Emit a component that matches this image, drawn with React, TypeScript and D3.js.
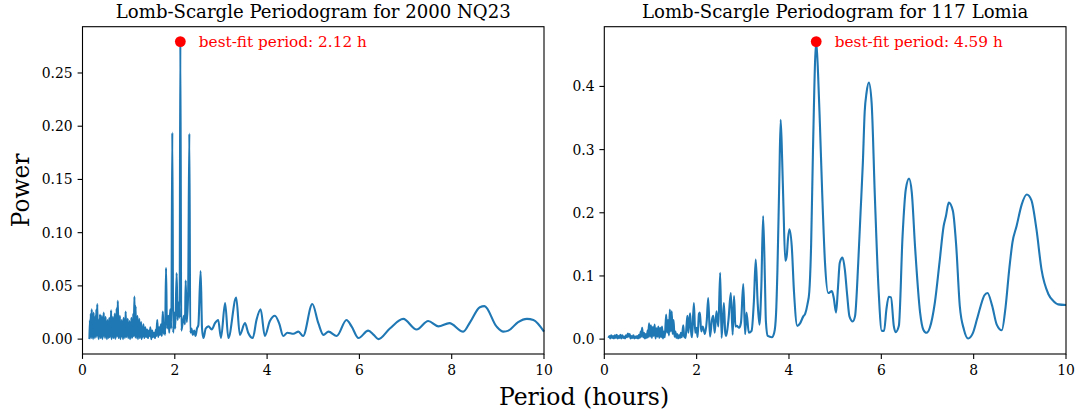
import React from 'react';
import * as d3 from 'd3';

const W = 1076;
const H = 415;
const FONT = "'DejaVu Serif', 'Liberation Serif', serif";
const LINE = '#1f77b4';

const periodTicks = [0, 2, 4, 6, 8, 10];
const nq23PowerTicks = [0, 0.05, 0.1, 0.15, 0.2, 0.25];
const lomiaPowerTicks = [0, 0.1, 0.2, 0.3, 0.4];

const nq23Title = 'Lomb-Scargle Periodogram for 2000 NQ23';
const lomiaTitle = 'Lomb-Scargle Periodogram for 117 Lomia';

const nq23Best = { period: 2.12, power: 0.2795 };
const lomiaBest = { period: 4.59, power: 0.471 };

// [period (h), power]
const nq23Curve: [number, number][] = [
  [0.15, 0.0], [0.16, 0.018], [0.17, 0.002], [0.18, 0.024], [0.19, 0.001], [0.2, 0.028], [0.21, 0.004], [0.22, 0.02],
  [0.23, 0.0], [0.24, 0.025], [0.25, 0.003], [0.26, 0.017], [0.27, 0.001], [0.28, 0.022], [0.29, 0.006], [0.3, 0.028],
  [0.31, 0.002], [0.32, 0.033], [0.33, 0.004], [0.34, 0.019], [0.35, 0.0], [0.36, 0.016], [0.37, 0.003], [0.38, 0.023],
  [0.39, 0.001], [0.4, 0.013], [0.41, 0.005], [0.42, 0.022], [0.43, 0.0], [0.44, 0.018], [0.45, 0.002], [0.46, 0.025],
  [0.47, 0.004], [0.48, 0.016], [0.49, 0.001], [0.5, 0.021], [0.51, 0.003], [0.52, 0.012], [0.53, 0.0], [0.54, 0.018],
  [0.55, 0.006], [0.56, 0.014], [0.57, 0.001], [0.58, 0.02], [0.59, 0.002], [0.6, 0.011], [0.61, 0.004], [0.62, 0.027],
  [0.63, 0.0], [0.64, 0.017], [0.65, 0.003], [0.66, 0.021], [0.67, 0.001], [0.68, 0.013], [0.69, 0.005], [0.7, 0.024],
  [0.71, 0.0], [0.72, 0.019], [0.73, 0.002], [0.74, 0.029], [0.75, 0.003], [0.765, 0.036], [0.78, 0.001], [0.79, 0.015],
  [0.8, 0.004], [0.81, 0.022], [0.82, 0.0], [0.83, 0.012], [0.84, 0.002], [0.85, 0.018], [0.86, 0.003], [0.87, 0.01],
  [0.88, 0.0], [0.89, 0.02], [0.9, 0.004], [0.91, 0.015], [0.92, 0.001], [0.935, 0.026], [0.95, 0.002], [0.96, 0.014],
  [0.97, 0.005], [0.98, 0.019], [0.99, 0.001], [1.0, 0.012], [1.01, 0.003], [1.02, 0.017], [1.03, 0.0], [1.04, 0.011],
  [1.05, 0.004], [1.06, 0.02], [1.07, 0.001], [1.08, 0.013], [1.09, 0.002], [1.1, 0.024], [1.11, 0.003], [1.125, 0.04],
  [1.14, 0.002], [1.15, 0.031], [1.16, 0.001], [1.17, 0.019], [1.18, 0.004], [1.19, 0.022], [1.2, 0.0], [1.21, 0.015],
  [1.22, 0.003], [1.23, 0.019], [1.24, 0.001], [1.25, 0.012], [1.26, 0.004], [1.27, 0.016], [1.28, 0.0], [1.29, 0.01],
  [1.3, 0.002], [1.32, 0.014], [1.34, 0.001], [1.36, 0.011], [1.38, 0.002], [1.4, 0.009], [1.42, 0.001], [1.44, 0.008],
  [1.46, 0.003], [1.47, 0.011], [1.49, 0.0], [1.51, 0.008], [1.53, 0.002], [1.55, 0.006], [1.57, 0.001], [1.59, 0.009],
  [1.6, 0.003], [1.62, 0.018], [1.64, 0.002], [1.66, 0.011], [1.68, 0.004], [1.7, 0.014], [1.72, 0.003], [1.74, 0.026],
  [1.76, 0.005], [1.78, 0.015], [1.79, 0.004], [1.81, 0.067], [1.83, 0.01], [1.86, 0.022], [1.88, 0.006], [1.9, 0.028],
  [1.925, 0.01], [1.946, 0.194], [1.965, 0.006], [1.99, 0.025], [2.01, 0.01], [2.04, 0.062], [2.06, 0.018], [2.09, 0.035],
  [2.105, 0.02], [2.12, 0.2795], [2.14, 0.008], [2.17, 0.015], [2.2, 0.022], [2.22, 0.014], [2.236, 0.055], [2.26, 0.016],
  [2.29, 0.045], [2.315, 0.193], [2.335, 0.006], [2.36, 0.01], [2.39, 0.004], [2.42, 0.008], [2.45, 0.003], [2.48, 0.01],
  [2.51, 0.013], [2.56, 0.064], [2.59, 0.01], [2.62, 0.001], [2.67, 0.01], [2.73, 0.012], [2.8, 0.009], [2.87, 0.015],
  [2.94, 0.018], [3.0, 0.001], [3.09, 0.034], [3.16, 0.001], [3.33, 0.039], [3.41, 0.004], [3.52, 0.015], [3.59, 0.006],
  [3.69, 0.001], [3.77, 0.018], [3.86, 0.028], [3.95, 0.003], [4.06, 0.017], [4.17, 0.022], [4.26, 0.015], [4.35, 0.003],
  [4.44, 0.006], [4.57, 0.005], [4.68, 0.007], [4.78, 0.003], [4.98, 0.033], [5.11, 0.015], [5.22, 0.004], [5.33, 0.007],
  [5.51, 0.003], [5.72, 0.018], [5.83, 0.012], [5.98, 0.001], [6.19, 0.008], [6.31, 0.004], [6.41, 0.0], [6.66, 0.01],
  [6.95, 0.019], [7.24, 0.009], [7.49, 0.017], [7.71, 0.012], [7.95, 0.015], [8.25, 0.007], [8.4, 0.016], [8.61, 0.03],
  [8.71, 0.031], [8.97, 0.012], [9.12, 0.007], [9.23, 0.008], [9.44, 0.016], [9.63, 0.019], [9.77, 0.018], [10.0, 0.007],
];

const lomiaCurve: [number, number][] = [
  [0.09, 0.002], [0.11, 0.005], [0.13, 0.001], [0.15, 0.006], [0.17, 0.002], [0.19, 0.005], [0.21, 0.001], [0.23, 0.006],
  [0.25, 0.002], [0.27, 0.007], [0.29, 0.001], [0.31, 0.005], [0.33, 0.002], [0.35, 0.007], [0.37, 0.001], [0.39, 0.006],
  [0.41, 0.002], [0.43, 0.004], [0.45, 0.001], [0.47, 0.006], [0.49, 0.003], [0.51, 0.009], [0.53, 0.004], [0.55, 0.008],
  [0.57, 0.001], [0.59, 0.005], [0.61, 0.002], [0.63, 0.006], [0.65, 0.001], [0.67, 0.004], [0.69, 0.002], [0.71, 0.005],
  [0.73, 0.001], [0.75, 0.007], [0.77, 0.002], [0.79, 0.012], [0.8, 0.004], [0.82, 0.018], [0.84, 0.003], [0.86, 0.01],
  [0.88, 0.001], [0.9, 0.008], [0.92, 0.002], [0.94, 0.014], [0.95, 0.003], [0.97, 0.025], [0.99, 0.004], [1.01, 0.022],
  [1.03, 0.002], [1.05, 0.019], [1.07, 0.005], [1.09, 0.023], [1.11, 0.001], [1.13, 0.017], [1.15, 0.004], [1.17, 0.02],
  [1.19, 0.002], [1.21, 0.018], [1.23, 0.003], [1.25, 0.02], [1.27, 0.001], [1.29, 0.012], [1.31, 0.003], [1.34, 0.039],
  [1.36, 0.01], [1.38, 0.03], [1.4, 0.006], [1.42, 0.047], [1.44, 0.012], [1.46, 0.044], [1.48, 0.008], [1.5, 0.03],
  [1.52, 0.004], [1.54, 0.012], [1.56, 0.002], [1.58, 0.008], [1.6, 0.001], [1.62, 0.006], [1.64, 0.002], [1.66, 0.01],
  [1.68, 0.003], [1.71, 0.022], [1.73, 0.004], [1.76, 0.002], [1.78, 0.02], [1.8, 0.037], [1.82, 0.01], [1.84, 0.03],
  [1.86, 0.041], [1.88, 0.012], [1.9, 0.003], [1.94, 0.057], [1.97, 0.01], [2.0, 0.018], [2.02, 0.003], [2.05, 0.04],
  [2.07, 0.042], [2.1, 0.012], [2.13, 0.02], [2.15, 0.016], [2.18, 0.008], [2.22, 0.03], [2.25, 0.065], [2.29, 0.004],
  [2.33, 0.03], [2.36, 0.037], [2.39, 0.01], [2.43, 0.044], [2.47, 0.02], [2.51, 0.105], [2.54, 0.002], [2.59, 0.057],
  [2.62, 0.01], [2.64, 0.005], [2.69, 0.031], [2.74, 0.073], [2.78, 0.007], [2.81, 0.068], [2.84, 0.02], [2.87, 0.021],
  [2.92, 0.018], [2.96, 0.026], [3.01, 0.087], [3.05, 0.008], [3.08, 0.042], [3.13, 0.01], [3.19, 0.013], [3.24, 0.06],
  [3.28, 0.126], [3.32, 0.06], [3.36, 0.023], [3.4, 0.08], [3.44, 0.195], [3.48, 0.09], [3.5, 0.028], [3.54, 0.005],
  [3.63, 0.003], [3.68, 0.01], [3.72, 0.04], [3.75, 0.11], [3.79, 0.25], [3.82, 0.347], [3.85, 0.29], [3.88, 0.211],
  [3.92, 0.124], [3.95, 0.131], [3.98, 0.16], [4.01, 0.174], [4.06, 0.147], [4.11, 0.073], [4.18, 0.021], [4.24, 0.025],
  [4.31, 0.036], [4.35, 0.04], [4.4, 0.055], [4.44, 0.075], [4.48, 0.15], [4.52, 0.3], [4.59, 0.471], [4.63, 0.42],
  [4.67, 0.34], [4.72, 0.23], [4.78, 0.121], [4.85, 0.073], [4.93, 0.076], [4.97, 0.065], [5.02, 0.042], [5.06, 0.08],
  [5.1, 0.121], [5.16, 0.129], [5.21, 0.11], [5.26, 0.07], [5.31, 0.036], [5.38, 0.028], [5.43, 0.036], [5.5, 0.121],
  [5.55, 0.2], [5.6, 0.279], [5.64, 0.36], [5.68, 0.39], [5.73, 0.406], [5.79, 0.374], [5.86, 0.226], [5.94, 0.079],
  [6.01, 0.013], [6.06, 0.013], [6.11, 0.047], [6.16, 0.067], [6.21, 0.066], [6.27, 0.021], [6.31, 0.011], [6.38, 0.021],
  [6.46, 0.163], [6.53, 0.237], [6.6, 0.254], [6.66, 0.232], [6.73, 0.147], [6.84, 0.042], [6.91, 0.015], [6.98, 0.01],
  [7.05, 0.018], [7.16, 0.058], [7.26, 0.121], [7.35, 0.179], [7.4, 0.195], [7.46, 0.216], [7.55, 0.203], [7.62, 0.15],
  [7.7, 0.052], [7.79, 0.015], [7.88, 0.001], [7.98, 0.009], [8.07, 0.031], [8.15, 0.052], [8.23, 0.069], [8.3, 0.073],
  [8.4, 0.053], [8.5, 0.023], [8.61, 0.014], [8.69, 0.05], [8.77, 0.11], [8.84, 0.153], [8.93, 0.179], [9.04, 0.213],
  [9.15, 0.229], [9.25, 0.22], [9.36, 0.174], [9.47, 0.11], [9.62, 0.071], [9.73, 0.06], [9.83, 0.055], [10.0, 0.054],
];

const TOP = 26.7;
const BOTTOM = 354;
const TICK = 4.9;

type PanelProps = {
  x0: number;
  x1: number;
  title: string;
  curve: [number, number][];
  yTicks: number[];
  yDigits: number;
  best: { period: number; power: number };
};

function Panel({ x0, x1, title, curve, yTicks, yDigits, best }: PanelProps) {
  const x = d3.scaleLinear().domain([0, 10]).range([x0, x1]);
  const minP = 0;
  const maxP = d3.max(curve, (d) => d[1]) as number;
  const pad = (maxP - minP) * 0.05;
  const y = d3.scaleLinear().domain([minP - pad, maxP + pad]).range([BOTTOM, TOP]);
  const line = d3
    .line<[number, number]>()
    .x((d) => x(d[0]))
    .y((d) => y(d[1]))
    .curve(d3.curveMonotoneX);
  const fmt = d3.format(`.${yDigits}f`);
  const bx = x(best.period);
  const by = y(best.power);
  return (
    <g>
      <path d={line(curve) || ''} fill="none" stroke={LINE} strokeWidth={2.1} strokeLinejoin="round" />
      <circle cx={bx} cy={by} r={5.4} fill="#ff0000" />
      <text x={bx + 18.5} y={by + 5.4} fontFamily={FONT} fontSize={15.3} fill="#ff0000">
        {`best-fit period: ${best.period.toFixed(2)} h`}
      </text>
      <rect x={x0} y={TOP} width={x1 - x0} height={BOTTOM - TOP} fill="none" stroke="#000" strokeWidth={1.1} />
      {periodTicks.map((t) => (
        <g key={`x${t}`}>
          <line x1={x(t)} x2={x(t)} y1={BOTTOM} y2={BOTTOM + TICK} stroke="#000" strokeWidth={1.1} />
          <text x={x(t)} y={374.5} textAnchor="middle" fontFamily={FONT} fontSize={13.9} fill="#000">
            {t}
          </text>
        </g>
      ))}
      {yTicks.map((t) => (
        <g key={`y${t}`}>
          <line x1={x0 - TICK} x2={x0} y1={y(t)} y2={y(t)} stroke="#000" strokeWidth={1.1} />
          <text x={x0 - TICK - 4.9} y={y(t) + 5} textAnchor="end" fontFamily={FONT} fontSize={13.9} fill="#000">
            {fmt(t)}
          </text>
        </g>
      ))}
      <text x={(x0 + x1) / 2} y={18.3} textAnchor="middle" fontFamily={FONT} fontSize={18.1} fill="#000">
        {title}
      </text>
    </g>
  );
}

export default function App() {
  return (
    <svg
      width={W}
      height={H}
      viewBox={`0 0 ${W} ${H}`}
      style={{ position: 'absolute', left: 0, top: 0, background: '#fff' }}
    >
      <rect x={0} y={0} width={W} height={H} fill="#fff" />
      <Panel x0={82.5} x1={544} title={nq23Title} curve={nq23Curve} yTicks={nq23PowerTicks} yDigits={2} best={nq23Best} />
      <Panel x0={604.3} x1={1066} title={lomiaTitle} curve={lomiaCurve} yTicks={lomiaPowerTicks} yDigits={1} best={lomiaBest} />
      <text
        transform={`translate(28.6, ${(TOP + BOTTOM) / 2}) rotate(-90)`}
        textAnchor="middle"
        fontFamily={FONT}
        fontSize={23.3}
        fill="#000"
      >
        Power
      </text>
      <text x={584} y={405} textAnchor="middle" fontFamily={FONT} fontSize={23.5} fill="#000">
        Period (hours)
      </text>
    </svg>
  );
}
